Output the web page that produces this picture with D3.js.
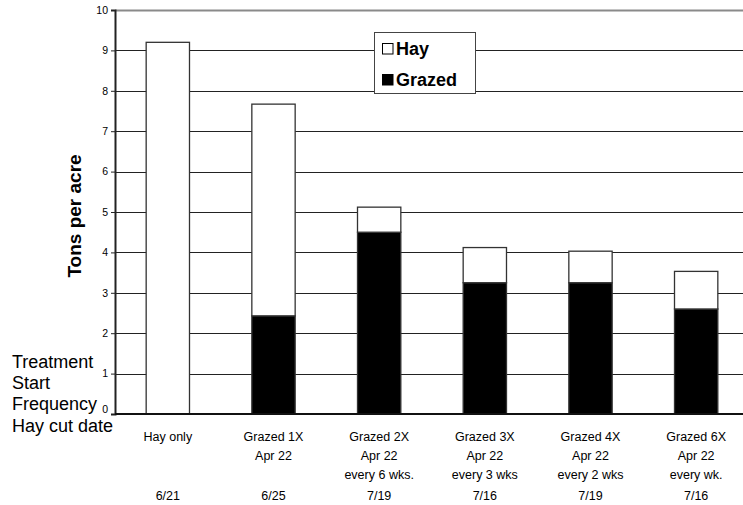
<!DOCTYPE html>
<html>
<head>
<meta charset="utf-8">
<script src="https://cdn.jsdelivr.net/npm/d3@7"></script>
<style>
  html, body { margin: 0; padding: 0; background: #fff; }
  svg { display: block; font-family: Arial, "Liberation Sans", sans-serif; }
</style>
</head>
<body>
<svg id="chart" width="743" height="505"></svg>
<script>
// ---- data ----
const categories = ["Hay only", "Grazed 1X", "Grazed 2X", "Grazed 3X", "Grazed 4X", "Grazed 6X"];
const startLabels = ["", "Apr 22", "Apr 22", "Apr 22", "Apr 22", "Apr 22"];
const frequencyLabels = ["", "", "every 6 wks.", "every 3 wks", "every 2 wks", "every wk."];
const hayCutDates = ["6/21", "6/25", "7/19", "7/16", "7/19", "7/16"];
const grazedValues = [0, 2.43, 4.5, 3.25, 3.25, 2.6];
const hayValues = [9.2, 5.24, 0.62, 0.87, 0.78, 0.93];
const yTicks = [0, 1, 2, 3, 4, 5, 6, 7, 8, 9, 10];
const rowLabels = ["Treatment", "Start", "Frequency", "Hay cut date"];
const seriesNames = ["Hay", "Grazed"];

// ---- layout ----
const svg = d3.select("#chart");
const mLeft = 115, mRight = 749, mTop = 10, mBottom = 414;

const x = d3.scaleBand().domain(categories).range([mLeft, mRight])
  .paddingInner(0.59).paddingOuter(0.295);
const y = d3.scaleLinear().domain([0, 10]).range([mBottom, mTop]);

// gridlines
svg.append("g").selectAll("line").data(yTicks.filter(d => d > 0)).join("line")
  .attr("x1", mLeft).attr("x2", 743)
  .attr("y1", d => Math.round(y(d)) + 0.5).attr("y2", d => Math.round(y(d)) + 0.5)
  .attr("stroke", d => d === 10 ? "#8a8a8a" : "#222")
  .attr("stroke-width", d => d === 10 ? 2 : 1);

// stacked bars
const rows = categories.map((c, i) => ({ cat: c, Grazed: grazedValues[i], Hay: hayValues[i] }));
const stack = d3.stack().keys(["Grazed", "Hay"])(rows);
const fills = { Grazed: "#000", Hay: "#fff" };
svg.append("g").selectAll("g").data(stack).join("g")
  .attr("fill", d => fills[d.key])
  .selectAll("rect").data(d => d.filter(p => p[1] - p[0] > 0)).join("rect")
  .attr("x", d => x(d.data.cat))
  .attr("width", x.bandwidth())
  .attr("y", d => y(d[1]))
  .attr("height", d => y(d[0]) - y(d[1]))
  .attr("stroke", "#333")
  .attr("stroke-width", 1.3);

// y axis
const yAxis = d3.axisLeft(y).tickValues(yTicks).tickSize(4).tickPadding(3).tickFormat(d3.format("d"));
const ga = svg.append("g").attr("transform", `translate(${mLeft},0)`).call(yAxis);
ga.select(".domain").attr("stroke", "#222").attr("stroke-width", 2);
ga.selectAll(".tick line").attr("stroke", "#222");
ga.selectAll(".tick text").attr("font-size", 10.5).attr("fill", "#000")
  .attr("font-family", "Arial, 'Liberation Sans', sans-serif")
  .attr("dy", d => d === 0 ? "-0.15em" : "0.32em");

// baseline
svg.append("line").attr("x1", mLeft).attr("x2", 743)
  .attr("y1", y(0)).attr("y2", y(0)).attr("stroke", "#111").attr("stroke-width", 2);

// y axis title
svg.append("text")
  .attr("transform", `translate(81,216) rotate(-90)`)
  .attr("text-anchor", "middle")
  .attr("font-size", 19).attr("font-weight", "bold")
  .text("Tons per acre");

// category labels
const labelRows = [categories, startLabels, frequencyLabels, hayCutDates];
const rowY = [441, 460, 479, 500];
labelRows.forEach((arr, r) => {
  svg.append("g").selectAll("text").data(arr).join("text")
    .attr("x", (d, i) => x(categories[i]) + x.bandwidth() / 2)
    .attr("y", rowY[r])
    .attr("text-anchor", "middle")
    .attr("font-size", 12.5)
    .text(d => d);
});

// row labels on left
const rowLabelY = [368, 389, 410, 432];
svg.append("g").selectAll("text").data(rowLabels).join("text")
  .attr("x", 12)
  .attr("y", (d, i) => rowLabelY[i])
  .attr("font-size", 18)
  .text(d => d);

// legend
const lg = svg.append("g").attr("transform", "translate(374,32)");
lg.append("rect").attr("x", 0.5).attr("y", 0.5).attr("width", 101).attr("height", 61)
  .attr("fill", "#fff").attr("stroke", "#444").attr("stroke-width", 1);
const legY = [11, 42];
lg.selectAll("rect.sw").data(seriesNames).join("rect").attr("class", "sw")
  .attr("x", 8.5).attr("y", (d, i) => legY[i] + 0.5)
  .attr("width", 10.5).attr("height", 10.5)
  .attr("fill", d => fills[d]).attr("stroke", "#000").attr("stroke-width", 1);
lg.selectAll("text").data(seriesNames).join("text")
  .attr("x", 22).attr("y", (d, i) => legY[i] + 11.5)
  .attr("font-size", 18).attr("font-weight", "bold")
  .text(d => d);
</script>
</body>
</html>
